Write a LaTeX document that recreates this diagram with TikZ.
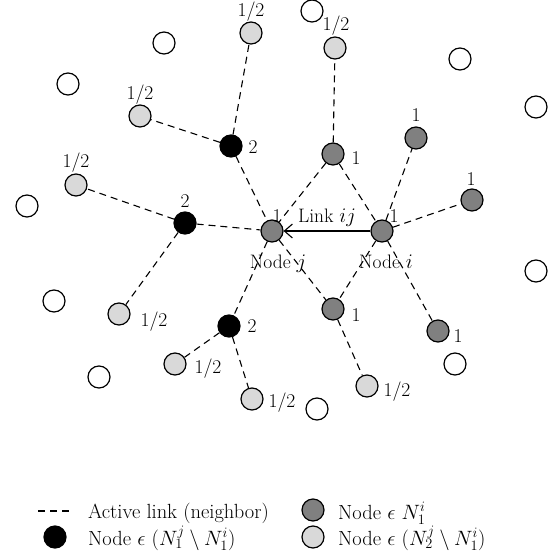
\documentclass[tikz,border=0pt]{standalone}
\usepackage{fontspec}
\usetikzlibrary{arrows.meta}
\definecolor{midgray}{RGB}{128,128,128}
\definecolor{lightgr}{RGB}{217,217,217}
\begin{document}
\begin{tikzpicture}[x=1pt,y=-1pt,
  font=\fontsize{19.5}{22}\selectfont,
  nd/.style={circle,draw=black,line width=1.2pt,minimum size=22pt,inner sep=0pt},
  wnode/.style={nd,fill=white},
  bnode/.style={nd,fill=black},
  gnode/.style={nd,fill=midgray},
  lnode/.style={nd,fill=lightgr},
  lab/.style={inner sep=0pt},
  leg/.style={inner sep=0pt,anchor=base west,font=\fontsize{20.5}{24}\selectfont},
  act/.style={line width=1.1pt,dash pattern=on 7pt off 5pt}]
\useasboundingbox (0,0) rectangle (552,556);
% white nodes
\node[wnode] (w1) at (164,43) {};
\node[wnode] (w2) at (68,84) {};
\node[wnode] (w3) at (27,206) {};
\node[wnode] (w4) at (312,11) {};
\node[wnode] (w5) at (460,59) {};
\node[wnode] (w6) at (536,107) {};
\node[wnode] (w7) at (536,271) {};
\node[wnode] (w8) at (54,301) {};
\node[wnode] (w9) at (99,377) {};
\node[wnode] (w10) at (455,364) {};
\node[wnode] (w11) at (317,409) {};
% main nodes
\node[gnode] (j) at (272,231) {};
\node[gnode] (i) at (382,231) {};
% black nodes
\node[bnode] (b1) at (231,146) {};
\node[bnode] (b2) at (185,223) {};
\node[bnode] (b3) at (229,326) {};
% gray nodes
\node[gnode] (g1) at (333,154) {};
\node[gnode] (g2) at (416,138) {};
\node[gnode] (g3) at (472,200) {};
\node[gnode] (g4) at (333,309) {};
\node[gnode] (g5) at (438,331) {};
% light gray nodes
\node[lnode] (l1) at (251,33) {};
\node[lnode] (l2) at (140,116) {};
\node[lnode] (l3) at (76,185) {};
\node[lnode] (l4) at (335,48) {};
\node[lnode] (l5) at (119,314) {};
\node[lnode] (l6) at (175,364) {};
\node[lnode] (l7) at (252,399) {};
\node[lnode] (l8) at (367,386) {};
% active links
\draw[act] (b1) -- (l1);
\draw[act] (b1) -- (l2);
\draw[act] (b1) -- (j);
\draw[act] (b2) -- (l3);
\draw[act] (b2) -- (j);
\draw[act] (b2) -- (l5);
\draw[act] (j) -- (b3);
\draw[act] (b3) -- (l6);
\draw[act] (b3) -- (l7);
\draw[act] (g1) -- (l4);
\draw[act] (g1) -- (j);
\draw[act] (g1) -- (i);
\draw[act] (i) -- (g2);
\draw[act] (i) -- (g3);
\draw[act] (i) -- (g4);
\draw[act] (j) -- (g4);
\draw[act] (i) -- (g5);
\draw[act] (g4) -- (l8);
% link ij
\draw[line width=1.1pt,-{Straight Barb[length=8pt,width=14pt,line width=1.1pt]}] (i) -- (j);
\node[lab,anchor=base] (linkij) at (327,222) {Link $ij$};
\node[lab,anchor=base] (nodej) at (278,268) {Node $j$};
\node[lab,anchor=base] (nodei) at (386,268) {Node $i$};
% number labels
\node[lab] (t1) at (251,12) {1/2};
\node[lab] (t2) at (140,95) {1/2};
\node[lab] (t3) at (76,163) {1/2};
\node[lab] (t4) at (253,147) {2};
\node[lab] (t5) at (185,201) {2};
\node[lab,anchor=base] (t6) at (277,222) {1};
\node[lab] (t7) at (336,26) {1/2};
\node[lab] (t8) at (356,158) {1};
\node[lab] (t9) at (416,115) {1};
\node[lab] (t10) at (471,179) {1};
\node[lab,anchor=base] (t11) at (394,222) {1};
\node[lab] (t12) at (154,322) {1/2};
\node[lab] (t13) at (252,326) {2};
\node[lab] (t14) at (208,369) {1/2};
\node[lab] (t15) at (282,403) {1/2};
\node[lab] (t16) at (356,315) {1};
\node[lab] (t17) at (458,336) {1};
\node[lab] (t18) at (397,392) {1/2};
% legend
\coordinate (d1) at (38,511);
\coordinate (d2) at (73,511);
\draw[act,dash pattern=on 7pt off 5pt] (d1) -- (d2);
\node[leg] (lg1) at (88,518) {Active link (neighbor)};
\node[bnode] (lb) at (55,537) {};
\node[leg] (lg2) at (88,545) {Node $\epsilon$ $(N_1^j\setminus N_1^i)$};
\node[gnode] (lgg) at (313,510) {};
\node[leg] (lg3) at (338,519) {Node $\epsilon$ $N_1^i$};
\node[lnode] (llg) at (313,537) {};
\node[leg] (lg4) at (338,545) {Node $\epsilon$ $(N_2^j\setminus N_1^i)$};
\end{tikzpicture}
\end{document}
